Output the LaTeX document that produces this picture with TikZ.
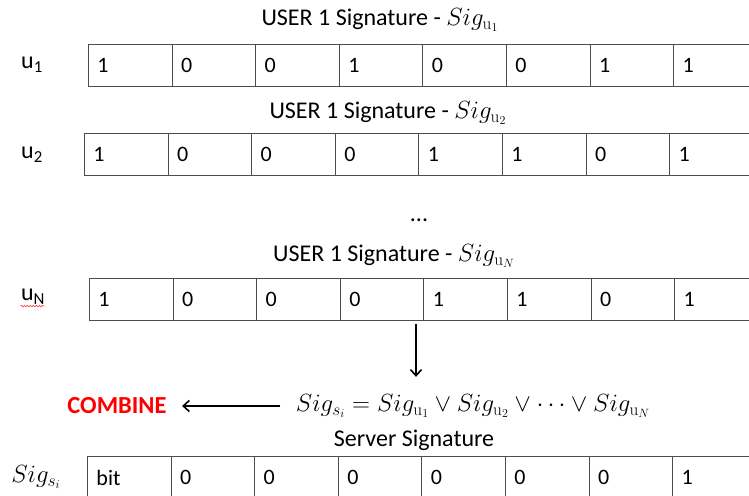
\documentclass[tikz,border=0pt]{standalone}
\usepackage{amsmath}
\usepackage[no-math]{fontspec}
\setmainfont{Carlito}
\usetikzlibrary{positioning,arrows.meta,decorations.pathmorphing}

\begin{document}
\begin{tikzpicture}[
  x=1pt, y=-1pt,
  font=\fontsize{24}{28}\selectfont,
  bitcell/.style={draw=black!70, line width=0.9pt, minimum width=83.6pt, minimum height=42pt, anchor=north west, inner xsep=9pt, text width=65.6pt, align=left, font=\fontsize{22}{26}\selectfont},
  sigtitle/.style={inner sep=1pt},
  flowarrow/.style={-{Straight Barb[length=6pt,width=11pt,line width=1.6pt]}, line width=1.8pt}
]
  \clip (0,0) rectangle (749,495);
  % first user
  \node[sigtitle] (t1) at (380,20) {USER 1 Signature - $Sig_{\mathrm{u}_1}$};
  \node (l1) at (32,65) {u\textsubscript{1}};
  \foreach \b [count=\k from 0] in {1,0,0,1,0,0,1,1}
    \node[bitcell] (a\k) at (88+83.6*\k,44) {\b};
  % second user
  \node[sigtitle] (t2) at (388,113) {USER 1 Signature - $Sig_{\mathrm{u}_2}$};
  \node (l2) at (32,155) {u\textsubscript{2}};
  \foreach \b [count=\k from 0] in {1,0,0,0,1,1,0,1}
    \node[bitcell] (b\k) at (84+83.6*\k,133) {\b};
  \node (dots) at (419,220) {...};
  % last user
  \node[sigtitle] (tN) at (394,256) {USER 1 Signature - $Sig_{\mathrm{u}_N}$};
  \node (lN) at (33,297) {u\textsubscript{N}};
  \draw[red!80, line width=0.6pt, decorate, decoration={snake, amplitude=0.8pt, segment length=3pt}]
    ([xshift=3pt,yshift=2pt]lN.south west) -- ([xshift=-4pt,yshift=2pt]lN.south east);
  \foreach \b [count=\k from 0] in {1,0,0,0,1,1,0,1}
    \node[bitcell] (c\k) at (89+83.6*\k,278) {\b};
  % combining step
  \node (eq) at (473,406) {$Sig_{s_i} = Sig_{\mathrm{u}_1} \vee Sig_{\mathrm{u}_2} \vee \cdots \vee Sig_{\mathrm{u}_N}$};
  \node[text=red, font=\fontsize{24.5}{28}\selectfont\bfseries] (combine) at (117,406) {COMBINE};
  \coordinate (down) at (416,324);
  \draw[flowarrow, shorten >=14pt] (down) -- (down |- eq.north);
  \draw[flowarrow, shorten <=12pt, shorten >=12pt] (eq.west) -- (combine.east);
  % server signature
  \node[sigtitle] (ts) at (414,440) {Server Signature};
  \node (ls) at (36,477) {$Sig_{s_i}$};
  \foreach \b [count=\k from 0] in {bit,0,0,0,0,0,0,1}
    \node[bitcell] (s\k) at (87+83.6*\k,456) {\b};
\end{tikzpicture}
\end{document}
